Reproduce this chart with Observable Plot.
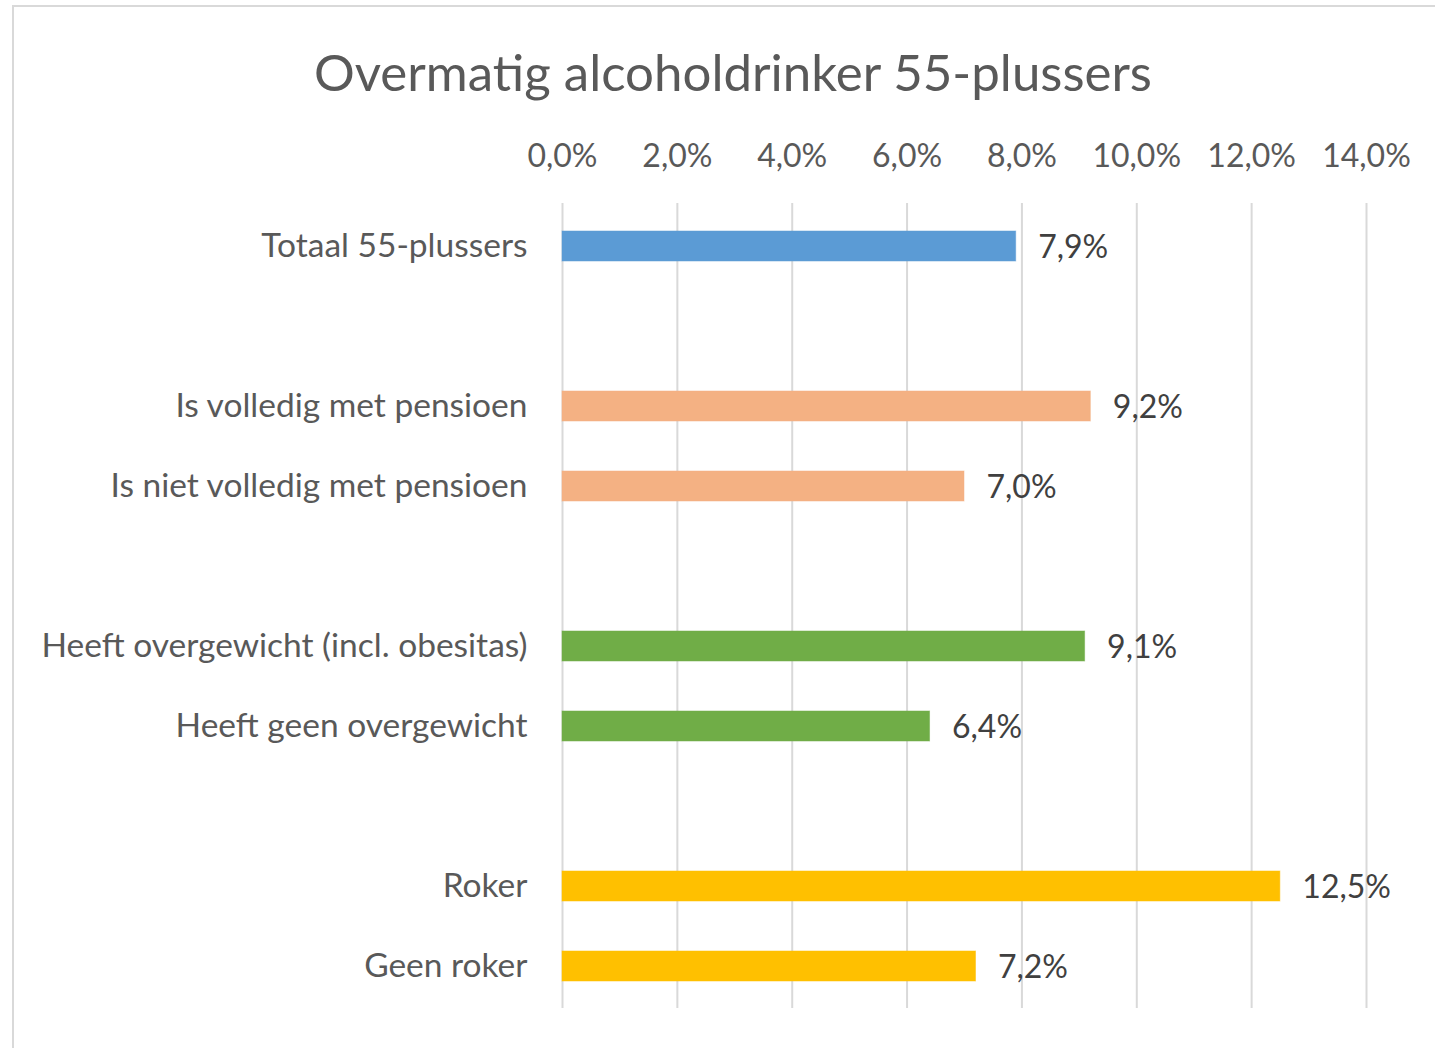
<!DOCTYPE html>
<html>
<head>
<meta charset="utf-8">
<script src="https://cdn.jsdelivr.net/npm/d3@7"></script>
<script src="https://cdn.jsdelivr.net/npm/@observablehq/plot@0.6"></script>
<style>
  html, body { margin: 0; padding: 0; background: #fff; overflow: hidden; }
  body { width: 1435px; height: 1048px; position: relative; font-family: Lato, "Open Sans", sans-serif; }
  #frame { position: absolute; left: 12px; top: 5px; width: 1500px; height: 1100px; border: 2px solid #d9d9d9; box-sizing: border-box; }
  #title { position: absolute; left: 0; top: 0; width: 1466px; height: 125px; text-align: center; font-size: 51px; line-height: 144px; color: #595959; }
  #chart { position: absolute; left: 0; top: 125px; }
</style>
</head>
<body>
<div id="frame"></div>
<div id="title">Overmatig alcoholdrinker 55-plussers</div>
<div id="chart"></div>
<script>
// Categories in display order (blank slots are spacer rows)
const categories = [
  "Totaal 55-plussers",
  " ",
  "Is volledig met pensioen",
  "Is niet volledig met pensioen",
  "  ",
  "Heeft overgewicht (incl. obesitas)",
  "Heeft geen overgewicht",
  "   ",
  "Roker",
  "Geen roker"
];
const labels = [
  "Totaal 55-plussers",
  "Is volledig met pensioen",
  "Is niet volledig met pensioen",
  "Heeft overgewicht (incl. obesitas)",
  "Heeft geen overgewicht",
  "Roker",
  "Geen roker"
];
const values = [7.9, 9.2, 7.0, 9.1, 6.4, 12.5, 7.2];
const colors = ["#5B9BD5", "#F4B183", "#F4B183", "#70AD47", "#70AD47", "#FFC000", "#FFC000"];
const xTicks = [0, 2, 4, 6, 8, 10, 12, 14];

const data = labels.map((c, i) => ({category: c, value: values[i], color: colors[i]}));
const fmt = v => v.toFixed(1).replace(".", ",") + "%";

const chart = Plot.plot({
  width: 1435,
  height: 923,
  marginTop: 78,
  marginBottom: 40,
  marginLeft: 562,
  marginRight: 69,
  style: { fontFamily: "Lato, 'Open Sans', sans-serif", color: "#595959", background: "transparent" },
  x: { domain: [0, 14] },
  y: { domain: categories, paddingInner: 0.63, paddingOuter: 0.315 },
  marks: [
    Plot.gridX(xTicks, { stroke: "#d9d9d9", strokeWidth: 2, strokeOpacity: 1 }),
    Plot.barX(data, { x: "value", y: "category", fill: "color", stroke: "color", strokeOpacity: 0.5 }),
    Plot.text(data, { x: "value", y: "category", text: d => fmt(d.value), textAnchor: "start", dx: 22, dy: 1, fontSize: 32, fill: "#404040" }),
    Plot.axisX(xTicks, { anchor: "top", tickSize: 0, tickPadding: 37, tickFormat: fmt, fontSize: 32, label: null, fill: "#595959" }),
    Plot.axisY({ anchor: "left", tickSize: 0, tickPadding: 35, fontSize: 33.5, label: null, fill: "#595959" })
  ]
});
document.getElementById("chart").appendChild(chart);
</script>
</body>
</html>
